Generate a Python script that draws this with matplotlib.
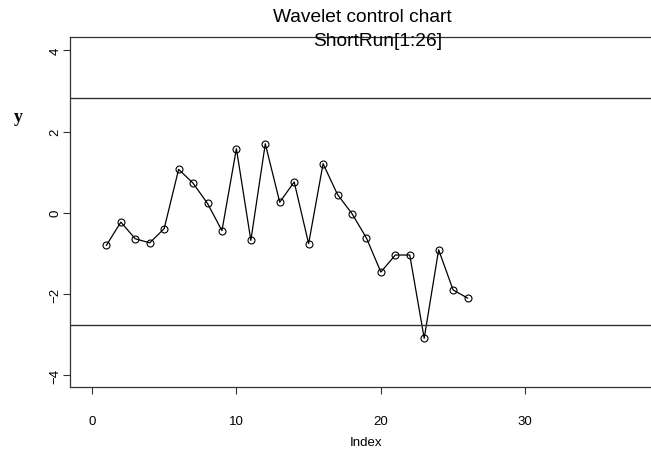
import matplotlib

matplotlib.use("Agg")
import matplotlib.pyplot as plt

# ShortRun[1:26] values
index = list(range(1, 27))
short_run = [-0.80, -0.23, -0.64, -0.74, -0.39, 1.07, 0.73, 0.23, -0.44, 1.58,
             -0.68, 1.70, 0.26, 0.76, -0.76, 1.21, 0.45, -0.02, -0.62, -1.46,
             -1.04, -1.04, -3.09, -0.91, -1.90, -2.10]
control_limits = [2.83, -2.77]
x_ticks = [0, 10, 20, 30]
y_ticks = [-4, -2, 0, 2, 4]

plt.rcParams["font.family"] = ["Liberation Sans", "DejaVu Sans"]

figure = plt.figure(figsize=(6.51, 4.52), dpi=100)
axis = figure.add_axes([0.1075, 0.1416, 0.8925, 0.7744])

axis.plot(index, short_run, color="black", linewidth=0.9, marker="o", markersize=5,
          markerfacecolor="none", markeredgecolor="black", markeredgewidth=0.8)
for limit in control_limits:
    axis.axhline(limit, color="#333333", linewidth=1.0)

axis.set_xlim(-1.52, 38.7)
axis.set_ylim(-4.29, 4.33)
axis.set_xticks(x_ticks)
axis.set_yticks(y_ticks)
axis.tick_params(direction="out", length=5, width=0.8, labelsize=9.5, color="#333333")
axis.tick_params(axis="x", pad=15)
axis.tick_params(axis="y", labelrotation=90, pad=1)
for label in axis.get_yticklabels():
    label.set_verticalalignment("center")
axis.spines["right"].set_visible(False)
for side in ("left", "bottom", "top"):
    axis.spines[side].set_linewidth(0.9)
    axis.spines[side].set_color("#333333")

figure.text(0.556, 1 - 17 / 452, "Wavelet control chart", ha="center", va="center", fontsize=13.8)
figure.text(0.580, 1 - 42 / 452, "ShortRun[1:26]", ha="center", va="center", fontsize=13.8)
figure.text(0.562, 1 - 443 / 452, "Index", ha="center", va="center", fontsize=9.5)
figure.text(18 / 651, 1 - 117 / 452, "y", ha="center", va="center", fontsize=13,
            family=["Liberation Serif", "DejaVu Serif"], fontweight="bold")

figure.savefig("out.png", dpi=100)
